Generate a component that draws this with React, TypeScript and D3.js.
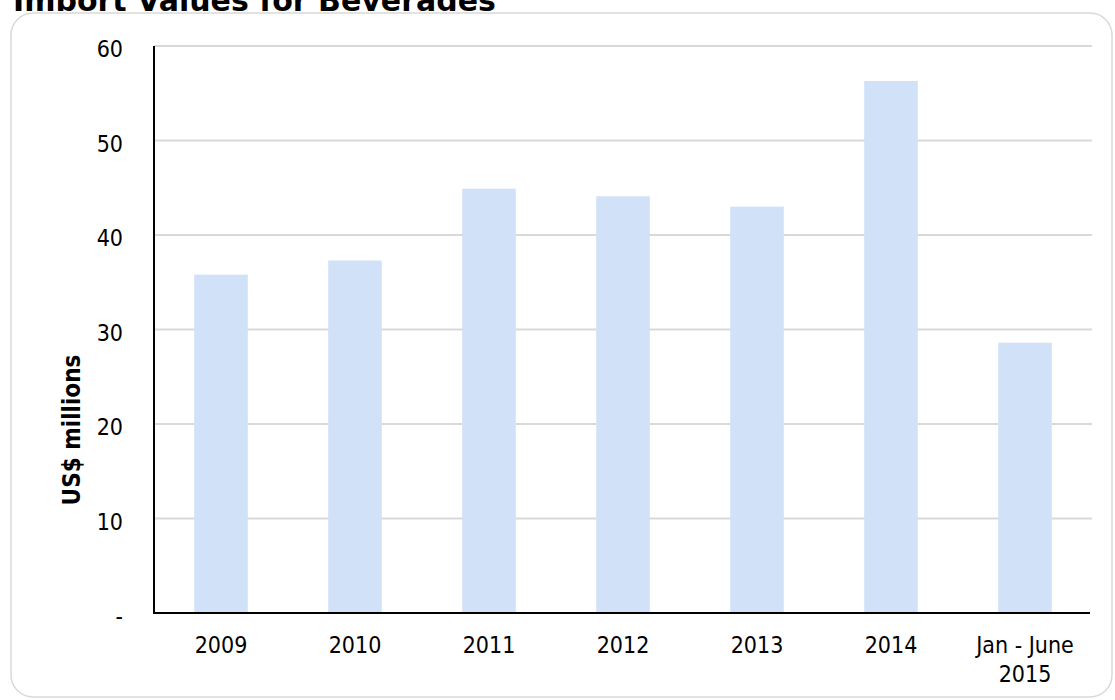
import React from "react";
import * as d3 from "d3";

const categories = ["2009", "2010", "2011", "2012", "2013", "2014", "Jan - June\n2015"];
const values = [35.8, 37.3, 44.9, 44.1, 43.0, 56.3, 28.6];
const yTicks = [0, 10, 20, 30, 40, 50, 60];
const yTickLabels = ["-", "10", "20", "30", "40", "50", "60"];
const title = "Import Values for Beverages";
const yTitle = "US$ millions";

const W = 1115, H = 700;
const M = { left: 154, right: 1092, top: 46, bottom: 613 };
const FONT = "'DejaVu Sans Condensed', 'DejaVu Sans', Verdana, sans-serif";

export default function App() {
  const x = d3.scaleBand().domain(categories).range([M.left, M.right]).paddingInner(0.6).paddingOuter(0.3);
  const y = d3.scaleLinear().domain([0, 60]).range([M.bottom, M.top]);
  return (
    <svg width={W} height={H} style={{ position: "absolute", left: 0, top: 0, background: "#fff" }} fontFamily={FONT}>
      <defs>
        <clipPath id="titleClip">
          <rect x={0} y={0} width={W} height={11} />
        </clipPath>
      </defs>
      <rect x={11} y={13} width={1101} height={684} rx={22} ry={22} fill="#fff" stroke="#d9d9d9" strokeWidth={1.5} />
      <text x={13} y={11} fontSize={30} fontWeight="bold" fill="#000" clipPath="url(#titleClip)" fontFamily="'DejaVu Sans', Verdana, sans-serif">{title}</text>
      {yTicks.map((t) =>
        t === 0 ? null : (
          <line key={"g" + t} x1={M.left} x2={M.right} y1={y(t)} y2={y(t)} stroke="#d9d9d9" strokeWidth={2} />
        )
      )}
      {categories.map((c, i) => (
        <rect key={c} x={x(c)} y={y(values[i])} width={x.bandwidth()} height={y(0) - y(values[i])} fill="#d0e1f8" />
      ))}
      <line x1={M.left} x2={M.left} y1={M.top} y2={M.bottom + 1} stroke="#000" strokeWidth={2} />
      <line x1={M.left} x2={1090} y1={M.bottom} y2={M.bottom} stroke="#000" strokeWidth={2} />
      {yTicks.map((t, i) => (
        <text key={"t" + t} x={123} y={y(t) + 11} textAnchor="end" fontSize={23} fill="#000">{yTickLabels[i]}</text>
      ))}
      {categories.map((c) => {
        const cx = (x(c) as number) + x.bandwidth() / 2;
        return (
          <text key={"l" + c} x={cx} y={653} textAnchor="middle" fontSize={23} fill="#000">
            {c.split("\n").map((ln, j) => (
              <tspan key={j} x={cx} dy={j === 0 ? 0 : 29}>{ln}</tspan>
            ))}
          </text>
        );
      })}
      <text transform="translate(80,430) rotate(-90)" textAnchor="middle" fontSize={24} fontWeight="bold" fill="#000">{yTitle}</text>
    </svg>
  );
}
